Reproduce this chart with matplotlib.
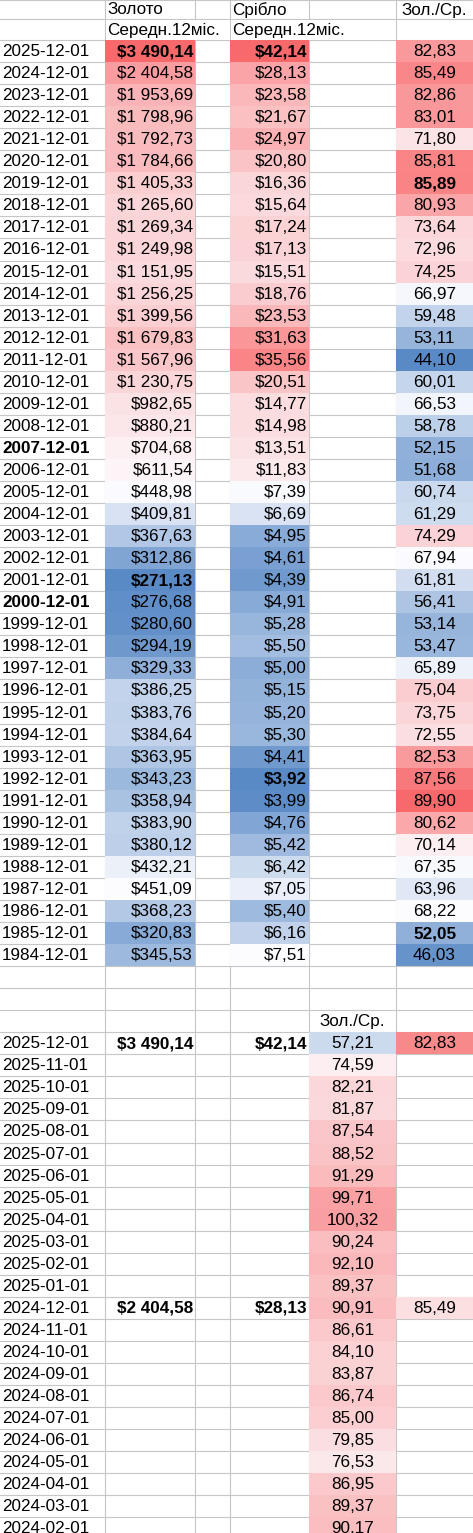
import numpy as np
from matplotlib import pyplot as plt
from matplotlib.patches import Rectangle
from matplotlib.colors import to_rgb

plt.rcParams['font.family'] = ['Liberation Sans', 'DejaVu Sans']

years = list(range(2025, 1983, -1))
gold = [3490.14, 2404.58, 1953.69, 1798.96, 1792.73, 1784.66, 1405.33, 1265.60, 1269.34, 1249.98,
        1151.95, 1256.25, 1399.56, 1679.83, 1567.96, 1230.75, 982.65, 880.21, 704.68, 611.54,
        448.98, 409.81, 367.63, 312.86, 271.13, 276.68, 280.60, 294.19, 329.33, 386.25,
        383.76, 384.64, 363.95, 343.23, 358.94, 383.90, 380.12, 432.21, 451.09, 368.23,
        320.83, 345.53]
silver = [42.14, 28.13, 23.58, 21.67, 24.97, 20.80, 16.36, 15.64, 17.24, 17.13,
          15.51, 18.76, 23.53, 31.63, 35.56, 20.51, 14.77, 14.98, 13.51, 11.83,
          7.39, 6.69, 4.95, 4.61, 4.39, 4.91, 5.28, 5.50, 5.00, 5.15,
          5.20, 5.30, 4.41, 3.92, 3.99, 4.76, 5.42, 6.42, 7.05, 5.40,
          6.16, 7.51]
ratio = [82.83, 85.49, 82.86, 83.01, 71.80, 85.81, 85.89, 80.93, 73.64, 72.96,
         74.25, 66.97, 59.48, 53.11, 44.10, 60.01, 66.53, 58.78, 52.15, 51.68,
         60.74, 61.29, 74.29, 67.94, 61.81, 56.41, 53.14, 53.47, 65.89, 75.04,
         73.75, 72.55, 82.53, 87.56, 89.90, 80.62, 70.14, 67.35, 63.96, 68.22,
         52.05, 46.03]
months = ["2025-12-01", "2025-11-01", "2025-10-01", "2025-09-01", "2025-08-01", "2025-07-01",
          "2025-06-01", "2025-05-01", "2025-04-01", "2025-03-01", "2025-02-01", "2025-01-01",
          "2024-12-01", "2024-11-01", "2024-10-01", "2024-09-01", "2024-08-01", "2024-07-01",
          "2024-06-01", "2024-05-01", "2024-04-01", "2024-03-01", "2024-02-01"]
monthly_ratio = [57.21, 74.59, 82.21, 81.87, 87.54, 88.52, 91.29, 99.71, 100.32, 90.24, 92.10, 89.37,
                 90.91, 86.61, 84.10, 83.87, 86.74, 85.00, 79.85, 76.53, 86.95, 89.37, 90.17]
# yearly values repeated next to the december rows
dec_rows = {"2025-12-01": (3490.14, 42.14, 82.83), "2024-12-01": (2404.58, 28.13, 85.49)}
bold_dates = ["2007-12-01", "2000-12-01"]

RED = np.array(to_rgb("#f8696b"))
WHITE = np.array(to_rgb("#fcfcff"))
BLUE = np.array(to_rgb("#5a8ac6"))


def scale_color(v, lo, mid, hi):
    if v >= mid:
        t = (v - mid) / (hi - mid)
        return WHITE + (RED - WHITE) * min(t, 1)
    t = (mid - v) / (mid - lo)
    return WHITE + (BLUE - WHITE) * min(t, 1)


def money(v):
    s = "%.2f" % v
    whole, frac = s.split(".")
    if len(whole) > 3:
        whole = whole[:-3] + " " + whole[-3:]
    return "$" + whole + "," + frac


def num(v):
    return ("%.2f" % v).replace(".", ",")


W, H = 473, 1533
fig = plt.figure(figsize=(W / 100, H / 100), dpi=100)
ax = fig.add_axes([0, 0, 1, 1])
ax.set_xlim(0, W)
ax.set_ylim(H, 0)
ax.axis("off")

cols = [0, 105, 195, 230, 309, 396, 473]
row_tops = [0, 19] + [40 + 22.05 * i for i in range(70)]
grid = "#c6c6c6"
for y in row_tops:
    ax.plot([0, W], [y, y], color=grid, lw=0.8, zorder=1)
for x in cols[1:-1]:
    ax.plot([x, x], [0, H], color=grid, lw=0.8, zorder=1)

FS = 12.3


def cell(ci, ri, text="", color=None, ha="right", bold=False):
    y0, y1 = row_tops[ri], row_tops[ri + 1]
    x0, x1 = cols[ci], cols[ci + 1]
    if color is not None:
        ax.add_patch(Rectangle((x0, y0), x1 - x0, y1 - y0, facecolor=color, edgecolor="none", zorder=2))
    if text:
        if ha == "right":
            tx = x1 - 2
        elif ha == "left":
            tx = x0 + 2
        else:
            tx = (x0 + x1) / 2
        ax.text(tx, (y0 + y1) / 2 + 0.5, text, ha=ha, va="center", fontsize=FS,
                fontweight="bold" if bold else "normal", zorder=3)


# headers
cell(1, 0, "Золото", ha="left")
cell(3, 0, "Срібло", ha="left")
cell(5, 0, "Зол./Ср.", ha="center")
for ci in (1, 3):
    ax.add_patch(Rectangle((cols[ci] + 0.5, 19.5), cols[ci + 2] - cols[ci] - 1, 20, facecolor="white",
                           edgecolor="none", zorder=2))
    ax.text(cols[ci] + 2, 30.5, "Середн.12міс.", ha="left", va="center", fontsize=FS, zorder=3)

g_lo, g_mid, g_hi = min(gold), np.median(gold), max(gold)
s_lo, s_mid, s_hi = min(silver), np.median(silver), max(silver)
r_lo, r_mid, r_hi = min(ratio), np.median(ratio), max(ratio)

for i, yr in enumerate(years):
    ri = i + 2
    d = "%d-12-01" % yr
    cell(0, ri, d, ha="left", bold=d in bold_dates)
    cell(1, ri, money(gold[i]), scale_color(gold[i], g_lo, g_mid, g_hi),
         bold=gold[i] in (g_lo, g_hi))
    cell(3, ri, money(silver[i]), scale_color(silver[i], s_lo, s_mid, s_hi),
         bold=silver[i] in (s_lo, s_hi))
    cell(5, ri, num(ratio[i]), scale_color(ratio[i], r_lo, r_mid, r_hi), ha="center",
         bold=ratio[i] in (85.89, 52.05))

base = 2 + len(years) + 2
cell(4, base, "Зол./Ср.", ha="center")
dec_colors = ["#f8898b", "#fcdfe1"]
for j, m in enumerate(months):
    ri = base + 1 + j
    cell(0, ri, m, ha="left")
    cell(4, ri, num(monthly_ratio[j]), scale_color(monthly_ratio[j], 27, 70, 118), ha="center")
    if m in dec_rows:
        g, s, r = dec_rows[m]
        k = list(dec_rows).index(m)
        cell(1, ri, money(g), bold=True)
        cell(3, ri, money(s), bold=True)
        cell(5, ri, num(r), dec_colors[k], ha="center")

fig.savefig("out.png", dpi=100)
